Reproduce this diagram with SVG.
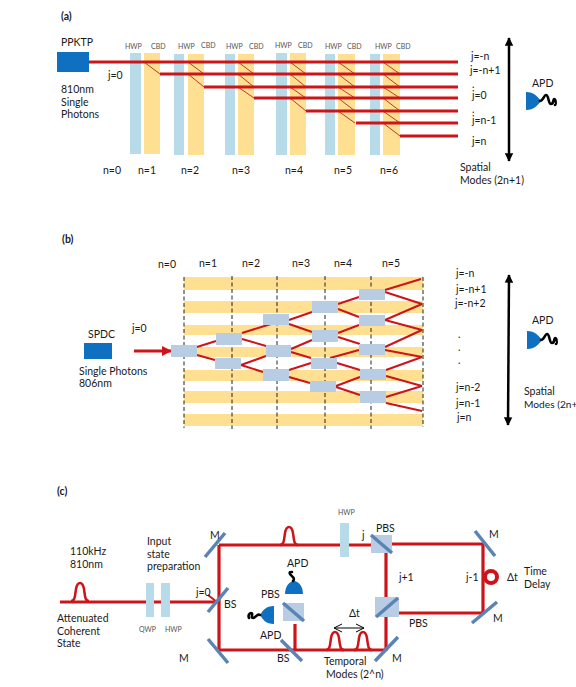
<svg xmlns="http://www.w3.org/2000/svg" xmlns:xlink="http://www.w3.org/1999/xlink" width="576" height="687" viewBox="0 0 576 687">
<style>
text{font-family:"Lato","Liberation Sans",sans-serif;font-size:10.5px;fill:#1a1a1a}
.b{font-weight:700}
.s{font-size:7px;fill:#555}
.hw{fill:#b7dbe8}
.cb{fill:#ffdf91}
.src{fill:#0f6fc0}
.bx{fill:#b8cce4}
.r{stroke:#cc1419;stroke-width:3.2;fill:none}
.rt{stroke:#c0392b;stroke-width:1;fill:none}
.rm{stroke:#cc1419;stroke-width:2;fill:none}
.d{stroke:#222;stroke-width:1;stroke-dasharray:4 2.5;fill:none}
.m{stroke:#5a84b4;stroke-width:3.5;fill:none}
.k{stroke:#000;stroke-width:2.5;fill:none}
.sq{stroke:#000;stroke-width:2.6;fill:none;stroke-linecap:round}
.p{stroke:#cc1419;stroke-width:2.5;fill:none}
</style>
<defs>
<marker id="ah" viewBox="0 0 10 10" refX="9" refY="5" markerWidth="3.4" markerHeight="3.6" orient="auto-start-reverse"><path d="M0 0L10 5L0 10z" fill="#000"/></marker>
<marker id="ar" viewBox="0 0 10 10" refX="9" refY="5" markerWidth="3.2" markerHeight="3.2" orient="auto"><path d="M0 0L10 5L0 10z" fill="#cc1419"/></marker>
<marker id="ao" viewBox="0 0 10 10" refX="9" refY="5" markerWidth="10" markerHeight="10" markerUnits="userSpaceOnUse" orient="auto-start-reverse"><path d="M1 1L9 5L1 9" fill="none" stroke="#000" stroke-width="1"/></marker>
<path id="pulse" d="M-9 0C-5 0-5-5-4-12C-2.500-20 2.500-20 4-12C5-5 5 0 9 0" class="p"/>
<path id="apd" d="M0-9C8-9 12-4 15 0C12 4 8 9 0 9Z" class="src"/>
</defs>

<g id="panel-a-label"><text class="b" x="61" y="20">(a)</text></g>
<g id="ppktp"><rect class="src" x="57" y="52" width="32" height="20"/><text x="61" y="46">PPKTP</text><text x="61" y="93">810nm</text><text x="61" y="106">Single</text><text x="61" y="118">Photons</text></g>
<g id="a-n1"><rect class="hw" x="130" y="53" width="11" height="101"/><rect class="cb" x="144" y="53" width="16" height="101"/><text class="s" x="125" y="49">HWP</text><text class="s" x="151" y="49">CBD</text></g>
<g id="a-n2"><rect class="hw" x="174" y="54" width="10" height="101"/><rect class="cb" x="188" y="54" width="16" height="101"/><text class="s" x="178" y="49">HWP</text><text class="s" x="201" y="48">CBD</text></g>
<g id="a-n3"><rect class="hw" x="225" y="54" width="10" height="101"/><rect class="cb" x="238" y="54" width="16" height="101"/><text class="s" x="226" y="49">HWP</text><text class="s" x="249" y="49">CBD</text></g>
<g id="a-n4"><rect class="hw" x="276" y="53" width="11" height="102"/><rect class="cb" x="290" y="53" width="16" height="102"/><text class="s" x="275" y="48">HWP</text><text class="s" x="298" y="48">CBD</text></g>
<g id="a-n5"><rect class="hw" x="325" y="54" width="10" height="101"/><rect class="cb" x="338" y="54" width="17" height="101"/><text class="s" x="325" y="49">HWP</text><text class="s" x="347" y="49">CBD</text></g>
<g id="a-n6"><rect class="hw" x="370" y="54" width="10" height="101"/><rect class="cb" x="383" y="54" width="17" height="101"/><text class="s" x="375" y="49">HWP</text><text class="s" x="396" y="49">CBD</text></g>
<g id="a-connectors">
<path class="rt" d="M144 62L160 74M188 62L204 74M188 74L204 87M238 62L254 74M238 74L254 87M238 87L254 98M290 62L306 74M290 74L306 87M290 87L306 98M290 98L306 111M338 62L355 74M338 74L355 87M338 87L355 98M338 98L355 111M338 111L355 123M383 62L400 74M383 74L400 87M383 87L400 98M383 98L400 111M383 111L400 123M383 123L400 136"/>
<path class="r" d="M89 62H458M160 74H458M204 87H458M254 98H458M306 111H458M356 123H458M400 136H458"/>
<path class="k" d="M509 38V161" marker-start="url(#ah)" marker-end="url(#ah)"/>
</g>
<g id="a-labels"><text x="108" y="79">j=0</text><text x="103" y="174">n=0</text><text x="138" y="174">n=1</text><text x="181" y="174">n=2</text><text x="232" y="174">n=3</text><text x="285" y="174">n=4</text><text x="334" y="174">n=5</text><text x="380" y="174">n=6</text>
<text x="471" y="60">j=-n</text><text x="470" y="74">j=-n+1</text><text x="472" y="88">.</text><text x="472" y="99">j=0</text><text x="472" y="113">.</text><text x="472" y="124">j=n-1</text><text x="472" y="145">j=n</text><text x="460" y="171">Spatial</text><text x="460" y="184">Modes (2n+1)</text></g>
<g id="a-apd"><use xlink:href="#apd" href="#apd" x="526" y="101"/><path class="sq" d="M540 101C543 101 544 95 546 95C549 95 548 104 551 104C554 104 553 99 554 99C556 99 556 105 555 105"/><text x="532" y="87">APD</text></g>

<g id="panel-b-label"><text class="b" x="62" y="243">(b)</text></g>
<g id="spdc"><rect class="src" x="84" y="343" width="28" height="16"/><text x="88" y="338">SPDC</text><text x="79" y="375">Single Photons</text><text x="79" y="387">806nm</text><text x="132" y="332">j=0</text></g>
<g id="b-stripes">
<rect class="cb" x="184" y="277" width="239" height="13"/><rect class="cb" x="184" y="301" width="239" height="12"/><rect class="cb" x="184" y="325" width="239" height="10"/><rect class="cb" x="184" y="347" width="239" height="10"/><rect class="cb" x="184" y="370" width="239" height="11"/><rect class="cb" x="184" y="391" width="239" height="12"/><rect class="cb" x="184" y="414" width="239" height="12"/>
</g>
<g id="b-dashes"><path class="d" d="M184 277V428M232 276V429M277 276V429M325 276V429M371 276V429M423 277V427"/></g>
<g id="b-connectors">
<path class="r" d="M134 351H171" marker-end="url(#ar)"/>
<path class="rm" d="M197 347L216 341M197 355L215 360M242 333L271 324M242 339L266 346M241 365L266 356M241 365L263 372M289 320L312 312M289 324L312 332M291 349L312 340M291 352L311 358M289 370L311 363M289 377L310 383M338 304L359 297M338 309L359 317M338 333L359 325M338 337L360 344M330 358L359 350M337 363L360 370M336 386L360 377M336 387L360 395M385 290L421 279M385 292L422 304M385 320L422 304M385 320L422 330M385 347L422 330M385 350L422 357M386 370L422 357M386 376L422 386M386 397L422 386M386 403L422 411"/>
<path class="k" d="M509 275L508 425" marker-start="url(#ah)" marker-end="url(#ah)"/>
</g>
<g id="b-bs">
<rect class="bx" x="171" y="345" width="26" height="12"/><rect class="bx" x="216" y="333" width="26" height="12"/><rect class="bx" x="215" y="358" width="26" height="11"/><rect class="bx" x="263" y="314" width="26" height="11"/><rect class="bx" x="266" y="345" width="25" height="12"/><rect class="bx" x="263" y="369" width="26" height="12"/><rect class="bx" x="312" y="301" width="26" height="12"/><rect class="bx" x="312" y="330" width="26" height="12"/><rect class="bx" x="311" y="358" width="26" height="11"/><rect class="bx" x="310" y="381" width="26" height="11"/><rect class="bx" x="359" y="289" width="26" height="11"/><rect class="bx" x="359" y="315" width="26" height="11"/><rect class="bx" x="359" y="344" width="26" height="11"/><rect class="bx" x="360" y="369" width="26" height="11"/><rect class="bx" x="360" y="391" width="26" height="12"/>
</g>
<g id="b-labels"><text x="158" y="268">n=0</text><text x="199" y="267">n=1</text><text x="242" y="267">n=2</text><text x="292" y="267">n=3</text><text x="334" y="267">n=4</text><text x="382" y="267">n=5</text>
<text x="456" y="277">j=-n</text><text x="456" y="293">j=-n+1</text><text x="455" y="307">j=-n+2</text><text x="458" y="338">.</text><text x="458" y="351">.</text><text x="458" y="364">.</text><text x="456" y="391">j=n-2</text><text x="456" y="407">j=n-1</text><text x="457" y="421">j=n</text><text x="524" y="395">Spatial</text><text x="524" y="408" style="font-size:10.2px">Modes (2n+</text></g>
<g id="b-apd"><use xlink:href="#apd" href="#apd" x="527" y="340"/><path class="sq" d="M541 340C544 340 545 334 547 334C550 334 549 343 552 343C555 343 554 338 555 338C557 338 557 344 556 344"/><text x="532" y="324">APD</text></g>

<g id="panel-c-label"><text class="b" x="57" y="495">(c)</text></g>
<g id="c-connectors">
<path class="r" d="M60 602H215M219 545V651M219 545H371M392 544H483V613H399M386 553V651M219 650H386M295 624V650"/>
<path class="rm" d="M208 595L217 602"/>
<use xlink:href="#pulse" href="#pulse" x="80" y="601"/>
<use xlink:href="#pulse" href="#pulse" x="289" y="545"/>
<use xlink:href="#pulse" href="#pulse" x="335" y="650"/>
<use xlink:href="#pulse" href="#pulse" x="363" y="650"/>
<path stroke="#000" stroke-width="1" fill="none" d="M334 628H364" marker-start="url(#ao)" marker-end="url(#ao)"/>
<circle cx="491" cy="577" r="6" fill="#fff" stroke="#cc1419" stroke-width="4"/>
</g>
<g id="c-waveplates"><rect class="hw" x="146" y="583" width="8" height="34"/><rect class="hw" x="161" y="583" width="9" height="34"/><rect class="hw" x="340" y="523" width="9" height="34"/><text class="s" x="139" y="632">QWP</text><text class="s" x="165" y="632">HWP</text><text class="s" x="338" y="515">HWP</text></g>
<g id="c-pbs"><rect class="bx" x="371" y="535" width="21" height="18"/><rect class="bx" x="375" y="597" width="24" height="20"/><rect class="bx" x="283" y="603" width="21" height="18"/><path class="m" d="M371 535L392 553M376 617L398 598M283 603L304 621"/></g>
<g id="c-mirrors"><path class="m" d="M205 557L225 533M208 612L228 588M208 639L228 663M281 640L302 661M375 661L398 637M475 531L495 556M472 623L497 602"/></g>
<g id="c-apd-top"><path class="src" d="M285 594C285 586 290 581 294 581C298 581 303 586 303 594Z"/><path class="sq" d="M293 581C296 578 291 576 290 574C289 572 291 572 292 572"/><text x="287" y="567">APD</text></g>
<g id="c-apd-left"><path class="src" d="M274 606C266 606 263 610 260 615C263 620 266 624 274 624Z"/><path class="sq" d="M260 615C257 613 256 618 253 618C250 618 254 613 251 613C249 613 248 616 249 618"/><text x="260" y="639">APD</text><text x="261" y="598">PBS</text></g>
<g id="c-labels"><text x="70" y="555">110kHz</text><text x="70" y="568">810nm</text><text x="147" y="545">Input</text><text x="147" y="558">state</text><text x="147" y="570">preparation</text><text x="196" y="596">j=0</text><text x="224" y="608">BS</text><text x="57" y="622">Attenuated</text><text x="57" y="635">Coherent</text><text x="57" y="647">State</text><text x="210" y="539">M</text><text x="179" y="662">M</text><text x="277" y="662">BS</text><text x="362" y="539">j</text><text x="376" y="532">PBS</text><text x="489" y="538">M</text><text x="399" y="581">j+1</text><text x="466" y="581">j-1</text><text x="507" y="581">Δt</text><text x="524" y="575">Time</text><text x="524" y="588">Delay</text><text x="493" y="622">M</text><text x="409" y="627">PBS</text><text x="392" y="662">M</text><text x="324" y="665">Temporal</text><text x="326" y="678">Modes (2^n)</text><text x="349" y="617">Δt</text></g>
</svg>
